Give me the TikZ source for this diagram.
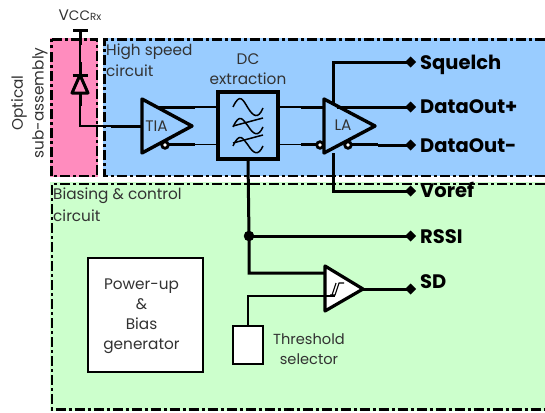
\documentclass[tikz,border=0pt]{standalone}
\usepackage{fontspec}
\setmainfont{Poppins}
\usetikzlibrary{arrows.meta}
\definecolor{pinkzone}{RGB}{255,140,190}
\definecolor{bluezone}{RGB}{153,204,255}
\definecolor{greenzone}{RGB}{204,255,204}
\definecolor{labelgray}{RGB}{50,50,50}
\tikzset{
	zone/.style={line width=2.4pt, dash pattern=on 10pt off 3pt on 3pt off 3pt},
	thinwire/.style={line width=1.5pt},
	wire/.style={line width=3pt},
	heavy/.style={line width=3pt},
	port/.style={line width=3pt, -{Diamond[length=11pt,width=11pt]}},
	bubble/.style={circle, draw, line width=2.8pt, fill=white, inner sep=0pt, minimum size=6.5pt},
	caption/.style={font=\fontsize{15.3}{20}\selectfont, text=labelgray, align=center, inner sep=0pt},
	portlabel/.style={font=\fontsize{19.5}{22}\selectfont\bfseries, anchor=west, inner sep=0pt, text height=13.6pt, text depth=0pt},
}
\begin{document}
\begin{tikzpicture}[x=1pt,y=-1pt]
	\useasboundingbox (0,0) rectangle (545,412);
	% zones
	\fill [pinkzone] (50,38) rectangle (98,177);
	\fill [bluezone] (103,38) rectangle (545,176);
	\fill [greenzone] (50,182) rectangle (545,411);
	\draw [zone] (51.5,39.5) -- (97,39.5) -- (97,176) -- (51.5,176) -- cycle;
	\draw [zone] (545,39.5) -- (104.5,39.5) -- (104.5,176) -- (545,176);
	\draw [zone] (545,184) -- (52,184) -- (52,409.5) -- (545,409.5);
	\node [caption, rotate=90] (optical) at (19,103) {Optical};
	\node [caption, rotate=90] (subassembly) at (40,103) {sub-assembly};
	\node [caption, anchor=west] (highspeed) at (106,52) {High speed};
	\node [caption, anchor=west] (highspeed2) at (106,71) {circuit};
	\node [caption, anchor=west] (biasing) at (53,196) {Biasing \& control};
	\node [caption, anchor=west] (biasing2) at (53,216) {circuit};
	% photodiode
	\node [caption] (vcc) at (80,15) {V{\fontsize{13.7}{12}\selectfont CC}{\fontsize{10.3}{9}\selectfont Rx}};
	\coordinate (rail) at (80,31);
	\coordinate (diodetop) at (80,75);
	\coordinate (diodebot) at (80,93);
	\coordinate (corner) at (80,126);
	\coordinate (tiain) at (142,126);
	\draw [heavy] (73,31) -- (88,31);
	\draw [thinwire] (rail) -- (diodetop);
	\draw [heavy] (rail) -- (80,45);
	\draw [heavy] (80,62) -- (diodetop);
	\draw [heavy] (72.5,75) -- (87.5,75);
	\draw [heavy, line join=round] (diodetop) -- (72,93) -- (88,93) -- cycle;
	\draw [heavy] (diodebot) -- (80,106);
	\draw [thinwire] (80,106) -- (corner) -- (tiain);
	\draw [heavy] (111,126) -- (tiain);
	% TIA
	\coordinate (tiaA) at (142,99);
	\coordinate (tiaB) at (142,153);
	\coordinate (tiaC) at (192,126);
	\draw [line width=3.4pt, line join=round] (tiaA) -- (tiaB) -- (tiaC) -- cycle;
	\node [caption] (tia) at (156.5,126) {TIA};
	\draw [wire] (157,107) -- (195,107);
	\draw [wire] (165,144.5) -- (195,144.5);
	\node [bubble] (tiabub) at (165,145) {};
	% DC extraction
	\node [draw, line width=3.4pt, minimum width=60pt, minimum height=67pt, inner sep=0pt] (dc) at (248,125.5) {};
	\node [caption] (dclabel) at (248,69) {DC\\extraction};
	\draw [thinwire] (195,107) -- (dc.west |- 0,107);
	\draw [thinwire] (195,144.5) -- (dc.west |- 0,144.5);
	\draw [thinwire] (dc.east |- 0,107) -- (301,107);
	\draw [thinwire] (dc.east |- 0,144.5) -- (301,144.5);
	\draw [thinwire] (233,107) .. controls (240,92) and (243,100) .. (248,108) .. controls (253,116) and (258,120) .. (263,108);
	\draw [thinwire] (233,127) .. controls (240,112) and (243,120) .. (248,126) .. controls (253,134) and (258,138) .. (263,127);
	\draw [thinwire] (233,146) .. controls (240,131) and (243,139) .. (248,145) .. controls (253,153) and (258,157) .. (263,146);
	\draw [thinwire] (233,126) -- (263,118);
	\draw [thinwire] (233,143) -- (263,135);
	% LA
	\coordinate (laA) at (324,99);
	\coordinate (laB) at (324,153);
	\coordinate (laC) at (375,126);
	\coordinate (laup) at (333,103);
	\coordinate (ladown) at (333,153);
	\draw [wire] (301,107) -- (laA |- 0,107);
	\draw [wire] (301,144.5) -- (laA |- 0,144.5);
	\draw [wire] (337,107) -- (378,107);
	\draw [wire] (348,144.5) -- (378,144.5);
	\draw [line width=3.4pt, line join=round] (laA) -- (laB) -- (laC) -- cycle;
	\node [caption] (la) at (343,125) {LA};
	\node [bubble] (labub1) at (320,145) {};
	\node [bubble] (labub2) at (348,145) {};
	% outputs
	\node [portlabel] (squelch) at (420,63) {Squelch};
	\node [portlabel] (dataplus) at (420,107) {DataOut+};
	\node [portlabel] (dataminus) at (420,146) {DataOut-};
	\coordinate (squelchend) at (416,62);
	\coordinate (dataplusend) at (416,107);
	\coordinate (dataminusend) at (416,145);
	\coordinate (vorefend) at (416,191);
	\coordinate (rssiend) at (416,236);
	\coordinate (sdend) at (416,289);
	\draw [port] (laup) |- (squelchend);
	\draw [port] (378,107) -- (dataplusend);
	\draw [port] (378,145) -- (dataminusend);
	\draw [port] (ladown) |- (vorefend);
	\node [portlabel] (voref) at (420,191) {Voref};
	\node [portlabel] (rssi) at (420,237) {RSSI};
	\node [portlabel] (sd) at (420,282) {SD};
	% lower part
	\coordinate (junction) at (249,236);
	\coordinate (cmpin) at (325,273);
	\draw [line width=3pt] (dc.south) -- (junction) |- (cmpin);
	\draw [port] (junction) -- (rssiend);
	\filldraw (junction) circle (5pt);
	\node [draw, fill=white, line width=1.5pt, minimum width=30pt, minimum height=38pt, inner sep=0pt] (thresh) at (248,345) {};
	\node [caption, font=\fontsize{14.6}{20}\selectfont] (threshlabel) at (309,349.5) {Threshold\\selector};
	\coordinate (cmpA) at (325,266);
	\coordinate (cmpB) at (325,311);
	\coordinate (cmpC) at (363,289);
	\filldraw [fill=white, line width=3.2pt, line join=round] (cmpA) -- (cmpB) -- (cmpC) -- cycle;
	\draw [line width=1.1pt] (330,295) -- (335,295) -- (339,283) -- (344,283);
	\draw [line width=1.1pt] (332,295) -- (336,283);
	\draw [thinwire] (thresh.north) |- (335,296);
	\draw [port] (cmpC) -- (sdend);
	\node [draw, fill=white, line width=1.5pt, minimum width=115pt, minimum height=114pt, inner sep=0pt] (power) at (145.3,315) {};
	\node [caption] (powerlabel) at (141.5,316) {Power-up\\\&\\Bias\\generator};
\end{tikzpicture}
\end{document}
